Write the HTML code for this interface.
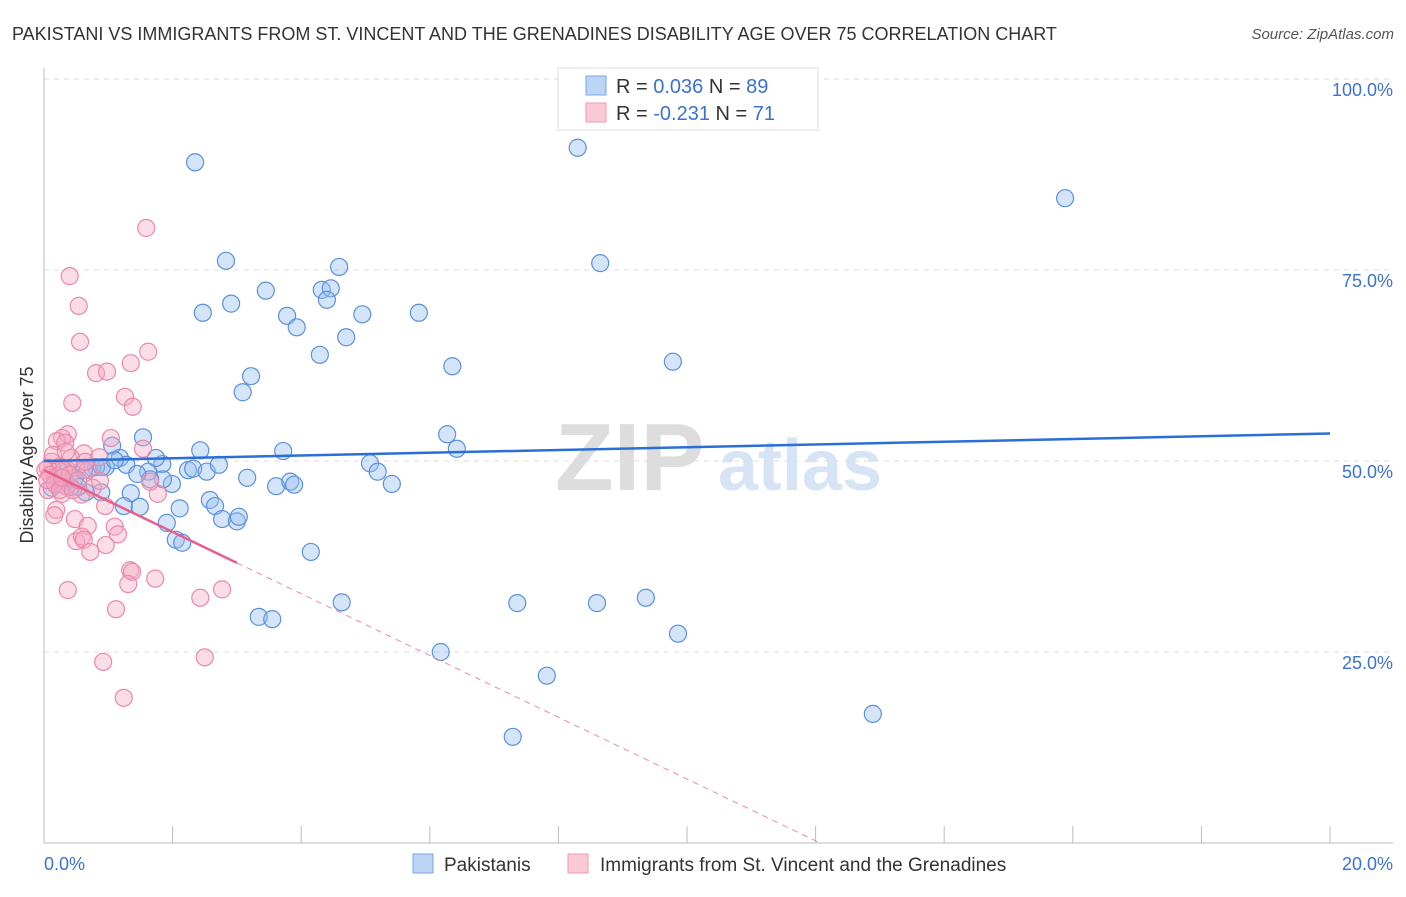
<!DOCTYPE html>
<html><head><meta charset="utf-8"><style>
body{margin:0;background:#fff;font-family:"Liberation Sans",sans-serif}
svg text{font-family:"Liberation Sans",sans-serif}
</style></head><body>
<svg id="chart" width="1406" height="892" xmlns="http://www.w3.org/2000/svg">
<text x="12" y="40" font-size="18" fill="#333">PAKISTANI VS IMMIGRANTS FROM ST. VINCENT AND THE GRENADINES DISABILITY AGE OVER 75 CORRELATION CHART</text>
<text x="1394" y="39" font-size="15" fill="#555" text-anchor="end" font-style="italic">Source: ZipAtlas.com</text>
<text transform="translate(33,455) rotate(-90)" font-size="18" fill="#333" text-anchor="middle">Disability Age Over 75</text>
<text x="555" y="490" font-size="96" fill="#ddd" font-family="Liberation Serif" font-weight="bold">ZIP</text>
<text x="718" y="490" font-size="72" fill="#d6e4f5" font-weight="bold">atlas</text>
<g id="grid"></g><g id="pts"></g><g id="trends"></g>
<g>
<rect x="558" y="68" width="260" height="62" fill="#fff" stroke="#ddd"/>
<rect x="586" y="76" width="20" height="19" fill="#bcd4f6" stroke="#7aa6e6"/>
<rect x="586" y="103" width="20" height="19" fill="#f9c9d6" stroke="#ef9ab3"/>
<text x="616" y="93" font-size="20" fill="#333">R = <tspan fill="#3a72d0">0.036</tspan>   N = <tspan fill="#3a72d0">89</tspan></text>
<text x="616" y="120" font-size="20" fill="#333">R = <tspan fill="#3a72d0">-0.231</tspan>   N = <tspan fill="#3a72d0"> 71</tspan></text>
</g>
<g>
<rect x="413" y="854" width="20" height="19" fill="#bcd4f6" stroke="#7aa6e6"/>
<text x="444" y="871" font-size="19" fill="#333">Pakistanis</text>
<rect x="568" y="854" width="20" height="19" fill="#f9c9d6" stroke="#ef9ab3"/>
<text x="600" y="871" font-size="19" fill="#333">Immigrants from St. Vincent and the Grenadines</text>
</g>
</svg>
<script>
const yTicks=[25,50,75,100];
const yTickLabels=["25.0%","50.0%","75.0%","100.0%"];
const xTicks=[0,2,4,6,8,10,12,14,16,18,20];
const blueX=[2.35,8.30,15.88,2.83,8.65,4.59,3.45,4.32,4.46,4.40,2.47,2.91,3.78,3.93,4.95,5.83,4.70,4.29,6.35,9.78,3.22,3.09,1.54,1.06,2.43,3.72,6.27,6.42,1.18,1.62,1.84,2.24,2.32,2.53,2.72,3.16,1.74,1.28,0.96,0.75,0.81,5.07,5.19,5.41,3.61,3.83,3.89,1.99,1.85,1.65,1.45,1.35,0.89,0.65,0.53,0.42,0.33,0.17,0.12,0.26,2.58,2.66,2.11,1.49,1.24,1.91,2.77,3.00,3.03,2.05,2.15,4.15,4.63,7.36,8.60,9.36,3.34,3.55,9.86,6.17,7.82,12.89,7.29,0.90,1.10,0.48,0.37,0.22,0.62];
const blueY=[89.1,91.0,84.4,76.2,75.9,75.4,72.3,72.4,72.6,71.1,69.4,70.6,69.0,67.5,69.2,69.4,66.2,63.9,62.4,63.0,61.1,59.0,53.1,52.0,51.4,51.3,53.5,51.6,50.4,48.6,49.6,48.8,49.0,48.6,49.5,47.8,50.4,49.5,49.2,49.1,49.2,49.7,48.6,47.0,46.7,47.3,46.9,47.0,47.6,47.6,48.3,45.8,45.9,45.9,46.6,46.6,47.3,47.8,46.5,47.0,44.9,44.1,43.8,44.0,44.1,41.9,42.4,42.1,42.7,39.7,39.3,38.1,31.5,31.4,31.4,32.1,29.6,29.3,27.4,25.0,21.9,16.9,13.9,49.2,50.1,47.8,48.8,48.8,48.8];
const pinkX=[1.59,0.40,0.54,0.56,1.62,1.35,0.81,0.98,1.26,1.38,0.44,0.37,0.28,1.04,0.20,0.33,0.62,1.54,0.86,0.42,0.12,0.06,0.25,0.50,0.68,0.19,0.34,0.06,0.28,0.58,0.19,0.16,1.77,1.65,0.95,0.48,0.68,1.10,1.15,0.50,0.59,0.62,0.96,0.72,1.34,1.37,1.73,1.31,0.37,2.77,2.43,1.12,0.92,2.50,1.24,0.02,0.09,0.22,0.31,0.40,0.17,0.05,0.25,0.45,0.76,0.87,0.14,0.34,0.64,0.53,0.28];
const pinkY=[80.5,74.2,70.3,65.6,64.3,62.8,61.5,61.7,58.4,57.1,57.6,53.5,53.0,53.0,52.6,52.4,51.0,51.6,50.5,50.4,49.9,49.1,49.3,49.1,48.8,47.5,46.7,46.2,45.7,45.6,43.6,42.9,45.7,47.3,44.1,42.4,41.5,41.4,40.4,39.5,40.1,39.7,39.0,38.1,35.7,35.5,34.6,33.9,33.1,33.2,32.1,30.6,23.7,24.3,19.0,48.8,48.2,48.0,48.8,48.2,47.0,47.5,46.2,46.2,46.5,47.4,50.8,51.2,49.9,47.5,47.8];
const blueTrend=[50.0,53.6];
const pinkTrend=[48.8,0];
const pinkTrendXEnd=12.07, pinkSolidEnd=3.0;
const X=v=>44+v/20*1286, Y=v=>843-v/100*764;
const NS="http://www.w3.org/2000/svg";
function mk(p,tag,a){const e=document.createElementNS(NS,tag);for(const k in a)e.setAttribute(k,a[k]);p.appendChild(e);return e;}
const g=document.getElementById('grid');
yTicks.forEach((t,i)=>{
 const l=mk(g,'line',{x1:44,x2:1393,y1:Y(t),y2:Y(t),stroke:'#ddd','stroke-dasharray':'5,5'});
 
 
 const tx=mk(g,'text',{x:1393,y:Y(t)+17,'font-size':18,fill:'#3a72d0','text-anchor':'end'});
 tx.textContent=yTickLabels[i];
 
 
});
const ax=mk(g,'line',{x1:44,x2:44,y1:68,y2:843,stroke:'#bbb'});


const bx=mk(g,'line',{x1:44,x2:1393,y1:843,y2:843,stroke:'#bbb'});


xTicks.forEach(t=>{const l=mk(g,'line',{x1:X(t),x2:X(t),y1:826,y2:843,stroke:'#bbb'});
 
 });
const x0=mk(g,'text',{x:44,y:870,'font-size':18,fill:'#3a72d0'});x0.textContent=xTicks[0].toFixed(1)+'%';


const x1=mk(g,'text',{x:1393,y:870,'font-size':18,fill:'#3a72d0','text-anchor':'end'});x1.textContent=xTicks[xTicks.length-1].toFixed(1)+'%';


const pg=document.getElementById('pts');
blueX.forEach((v,i)=>{const c=mk(pg,'circle',{cx:X(v),cy:Y(blueY[i]),r:8.5,fill:'rgba(150,190,240,0.4)',stroke:'#5a90dc','stroke-width':1.2});
 
 });
pinkX.forEach((v,i)=>{const c=mk(pg,'circle',{cx:X(v),cy:Y(pinkY[i]),r:8.5,fill:'rgba(245,170,195,0.4)',stroke:'#ea88a8','stroke-width':1.2});
 
 });
const tg=document.getElementById('trends');
const bl=mk(tg,'line',{x1:X(0),y1:Y(blueTrend[0]),x2:X(20),y2:Y(blueTrend[1]),stroke:'#2a6fd6','stroke-width':2.5});


const py=x=>pinkTrend[0]+(pinkTrend[1]-pinkTrend[0])*x/pinkTrendXEnd;
const ps=mk(tg,'line',{x1:X(0),y1:Y(py(0)),x2:X(pinkSolidEnd),y2:Y(py(pinkSolidEnd)),stroke:'#e8608a','stroke-width':2.5});


const pd=mk(tg,'line',{x1:X(pinkSolidEnd),y1:Y(py(pinkSolidEnd)),x2:X(pinkTrendXEnd),y2:Y(py(pinkTrendXEnd)),stroke:'#eb8aa8','stroke-width':1,'stroke-dasharray':'6,5'});


</script>
</body></html>
